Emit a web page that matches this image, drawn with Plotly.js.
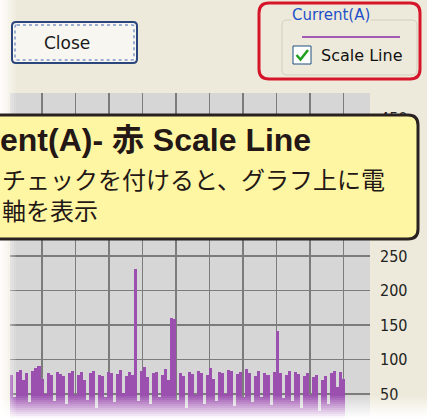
<!DOCTYPE html>
<html><head><meta charset="utf-8">
<script src="https://cdn.plot.ly/plotly-3.0.1.min.js"></script>
<style>html,body{margin:0;padding:0;background:#eeeadb;overflow:hidden}</style>
</head><body><div id="chart" style="width:427px;height:418px"></div>
<script>
// ---- data ----
const currentA = [
  78, 45, 82, 85, 70, 80, 38, 84, 87, 90,
  72, 50, 80, 78, 40, 82, 79, 76, 35, 80,
  83, 48, 78, 82, 70, 42, 80, 84, 30, 78,
  76, 45, 82, 80, 38, 79, 85, 52, 76, 82,
  78, 231, 40, 84, 89, 74, 35, 80, 82, 45,
  78, 86, 70, 160, 158, 42, 80, 76, 30, 82,
  79, 48, 84, 80, 36, 78, 88, 72, 40, 82,
  80, 50, 85, 84, 32, 79, 82, 46, 86, 80,
  38, 76, 83, 45, 80, 78, 34, 82, 141, 80,
  44, 78, 84, 40, 82, 79, 30, 76, 80, 48,
  74, 78, 25, 70, 76, 35, 80, 84, 60, 82,
  72
];
const sampleStart = 0.1;
const sampleStep = 0.09;
const yTickValues = [50, 100, 150, 200, 250, 300, 350, 400, 450];
const yTickLabels = ['50', '100', '150', '200', '250', '300', '350', '400', '450'];
const buttonLabel = 'Close';
const groupTitle = 'Current(A)';
const checkLabel = 'Scale Line';
const calloutTitle = 'ent(A)- 赤 Scale Line';
const calloutLine1 = 'チェックを付けると、グラフ上に電';
const calloutLine2 = '軸を表示';

const times = currentA.map((_, i) => sampleStart + i * sampleStep);

// ---- geometry helpers (pixels -> paper) ----
const W = 427, H = 418, ML = 10, MR = 57, MT = 93, MB = 0;
const PW = W - ML - MR, PH = H - MT - MB;
const X = p => (p - ML) / PW;
const Y = p => 1 - (p - MT) / PH;
const Y_MIN = 15.2, Y_MAX = 486.2;
const valToPx = v => MT + (Y_MAX - v) / (Y_MAX - Y_MIN) * PH;

// callout box (px)
const CB = {x0: -12, y0: 115, x1: 418, y1: 239};
// tick labels hidden behind the callout are left blank
const shownTickText = yTickValues.map((v, i) => {
  const p = valToPx(v);
  return (p > CB.y0 + 6 && p < CB.y1) ? '' : yTickLabels[i];
});

function rect(x0, y0, x1, y1, fill, line, lw, extra) {
  return Object.assign({type: 'rect', xref: 'paper', yref: 'paper', layer: 'above',
    x0: X(x0), x1: X(x1), y0: Y(y1), y1: Y(y0),
    fillcolor: fill || 'rgba(0,0,0,0)', line: {color: line || 'rgba(0,0,0,0)', width: lw || 0}}, extra || {});
}
function rrect(x0, y0, x1, y1, r, fill, line, lw, extra) {
  const P = (a, b) => X(a) + ',' + Y(b);
  const d = 'M' + P(x0 + r, y0) + ' L' + P(x1 - r, y0) + ' Q' + P(x1, y0) + ' ' + P(x1, y0 + r) +
    ' L' + P(x1, y1 - r) + ' Q' + P(x1, y1) + ' ' + P(x1 - r, y1) +
    ' L' + P(x0 + r, y1) + ' Q' + P(x0, y1) + ' ' + P(x0, y1 - r) +
    ' L' + P(x0, y0 + r) + ' Q' + P(x0, y0) + ' ' + P(x0 + r, y0) + ' Z';
  return Object.assign({type: 'path', xref: 'paper', yref: 'paper', layer: 'above', path: d,
    fillcolor: fill || 'rgba(0,0,0,0)', line: {color: line || 'rgba(0,0,0,0)', width: lw || 0}}, extra || {});
}
function lineS(x0, y0, x1, y1, color, w, dash) {
  return {type: 'line', xref: 'paper', yref: 'paper', layer: 'above',
    x0: X(x0), x1: X(x1), y0: Y(y0), y1: Y(y1), line: {color: color, width: w, dash: dash || 'solid'}};
}
function pathS(pts, color, w) {
  const d = pts.map((p, i) => (i ? 'L' : 'M') + X(p[0]) + ',' + Y(p[1])).join(' ');
  return {type: 'path', xref: 'paper', yref: 'paper', layer: 'above', path: d, line: {color: color, width: w}};
}
function txt(text, x, y, size, family, color, anchor, extra) {
  return Object.assign({text: text, xref: 'paper', yref: 'paper', x: X(x), y: Y(y),
    xanchor: anchor || 'left', yanchor: 'middle', showarrow: false,
    font: {size: size, family: family, color: color}}, extra || {});
}

const shapes = [];
// left fade
for (let k = 0; k < 8; k++) shapes.push(rect(2 * k, 0, 2 * k + 2, H, 'rgba(255,255,255,' + (0.9 * (1 - k / 8)).toFixed(3) + ')'));
// bottom fade
for (let k = 0; k < 11; k++) shapes.push(rect(0, 396 + 2 * k, W, 398 + 2 * k, 'rgba(255,255,255,' + (0.95 * (k + 1) / 11).toFixed(3) + ')'));
// Close button
shapes.push(rrect(12, 22, 137, 63, 4, '#f7f6f0', '#2b467c', 2));
shapes.push(rrect(15, 25, 134, 60, 2, 'rgba(0,0,0,0)', '#8ea8d8', 1.5, {line: {color: '#7f97c8', width: 1.5, dash: 'dot'}}));
// red highlight frame
shapes.push(rrect(259, 3, 420, 79, 10, 'rgba(0,0,0,0)', '#d5162a', 3));
// group box
shapes.push(rrect(282, 20, 417, 75, 5, 'rgba(0,0,0,0)', '#d2cfbd', 1));
// legend line
shapes.push(lineS(302, 37, 400, 37, '#a35bb5', 2));
// checkbox
shapes.push(rect(293, 46, 311, 64, '#ffffff', '#1c5180', 1));
shapes.push(pathS([[296.5, 55], [300.5, 59.5], [308, 50]], '#21a121', 2.5));
// callout
shapes.push(rrect(CB.x0, CB.y0, CB.x1, CB.y1, 10, '#fff6a3', '#2a2220', 3));

const annotations = [
  txt(buttonLabel, 67, 43, 17, 'DejaVu Sans', '#1a1a1a', 'center'),
  txt(groupTitle, 291, 15, 15, 'DejaVu Sans', '#1f50c8', 'left', {bgcolor: '#eeeadb', borderpad: 0}),
  txt(checkLabel, 319, 55.5, 16, 'DejaVu Sans', '#111111'),
  txt('<b>' + calloutTitle + '</b>', -2, 140, 32, 'Liberation Sans, Arial, Noto Sans CJK JP', '#231815'),
  txt(calloutLine1 + '<br>' + calloutLine2, 0, 194, 24, 'Noto Sans CJK JP', '#231815', 'left', {align: 'left'})
];

const trace = {
  type: 'bar', x: times, y: currentA, width: sampleStep,
  marker: {color: '#9b4fae', line: {width: 0}}, hoverinfo: 'skip'
};

const layout = {
  width: W, height: H,
  margin: {l: ML, r: MR, t: MT, b: MB, pad: 0},
  paper_bgcolor: '#eeeadb', plot_bgcolor: '#d6d6d6',
  showlegend: false, bargap: 0,
  xaxis: {range: [0.044, 10.797], dtick: 1, tick0: 0, showgrid: true, gridcolor: '#7c7c7c', gridwidth: 1.5,
    showticklabels: false, zeroline: false, showline: false, ticks: '', fixedrange: true},
  yaxis: {range: [Y_MIN, Y_MAX], side: 'right', tickmode: 'array', tickvals: yTickValues, ticktext: shownTickText,
    showgrid: true, gridcolor: '#7c7c7c', gridwidth: 1.5, zeroline: false, showline: false, ticks: '',
    ticklabelstandoff: 9, tickfont: {family: 'DejaVu Sans Condensed', size: 16, color: '#222222'}, fixedrange: true},
  shapes: shapes, annotations: annotations
};

Plotly.newPlot('chart', [trace], layout, {staticPlot: true, displayModeBar: false});
</script></body></html>
